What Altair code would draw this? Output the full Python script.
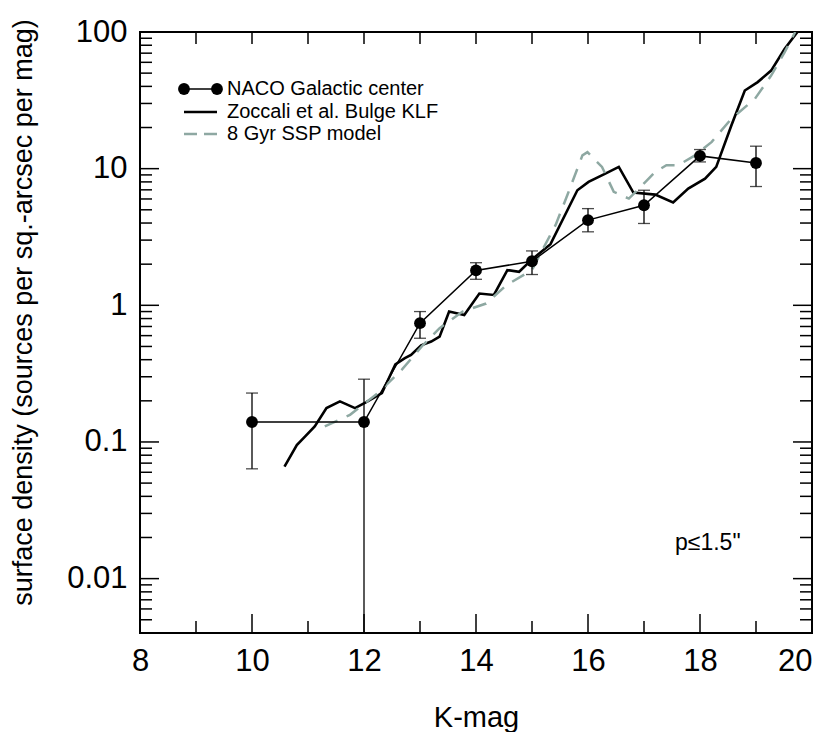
import altair as alt
import pandas as pd

# ---------------- data ----------------
naco_k = [10, 12, 13, 14, 15, 16, 17, 18, 19]
naco_v = [0.14, 0.14, 0.74, 1.80, 2.10, 4.2, 5.4, 12.4, 11.0]
naco_hi = [0.228, 0.288, 0.90, 2.05, 2.5, 5.1, 6.95, 13.8, 14.6]
naco_lo = [0.0636, 0.001, 0.574, 1.55, 1.68, 3.45, 3.97, 11.2, 7.4]

zoc_k = [10.58, 10.80, 10.95, 11.12, 11.33, 11.57, 11.84, 12.04, 12.32, 12.56,
         12.73, 12.84, 13.02, 13.20, 13.35, 13.52, 13.79, 14.06, 14.32, 14.56,
         14.77, 14.99, 15.33, 15.81, 16.01, 16.31, 16.55, 16.81, 17.20, 17.52,
         17.79, 18.09, 18.29, 18.56, 18.80, 19.03, 19.27, 19.51, 19.74]
zoc_v = [0.066, 0.095, 0.110, 0.130, 0.177, 0.198, 0.177, 0.196, 0.228, 0.37,
         0.41, 0.434, 0.51, 0.543, 0.59, 0.90, 0.85, 1.22, 1.19, 1.81,
         1.76, 2.15, 2.8, 6.95, 8.0, 9.2, 10.3, 6.68, 6.46, 5.65,
         7.15, 8.45, 10.3, 20.7, 37.3, 43.0, 52.2, 75.0, 100.0]

ssp_k = [11.30, 11.75, 12.25, 12.68, 13.05, 13.35, 13.76, 14.18, 14.55, 15.00,
         15.17, 15.42, 15.63, 15.90, 15.99, 16.25, 16.46, 16.73, 17.04, 17.20,
         17.40, 17.61, 17.91, 18.21, 18.56, 18.98, 19.27, 19.51, 19.70]
ssp_v = [0.13, 0.158, 0.228, 0.34, 0.51, 0.68, 0.90, 1.03, 1.41, 1.81,
         2.47, 3.86, 6.38, 12.5, 13.2, 10.3, 6.76, 6.04, 8.1, 9.46,
         10.6, 10.6, 12.5, 15.7, 23.2, 32.4, 48.0, 71.0, 100.0]

x_label_vals = [8, 10, 12, 14, 16, 18, 20]
x_major = [10, 12, 14, 16, 18]
x_minor = [9, 11, 13, 15, 17, 19]
y_major = [0.01, 0.1, 1, 10, 100]
y_minor = [0.005, 0.006, 0.007, 0.008, 0.009,
           0.02, 0.03, 0.04, 0.05, 0.06, 0.07, 0.08, 0.09,
           0.2, 0.3, 0.4, 0.5, 0.6, 0.7, 0.8, 0.9,
           2, 3, 4, 5, 6, 7, 8, 9,
           20, 30, 40, 50, 60, 70, 80, 90]

legend_labels = ["NACO Galactic center", "Zoccali et al. Bulge KLF", "8 Gyr SSP model"]
annotation = "p\u22641.5\""
y_title = "surface density (sources per sq.-arcsec per mag)"
x_title = "K-mag"

# ---------------- tables ----------------
naco = pd.DataFrame({"k": naco_k, "v": naco_v, "hi": naco_hi, "lo": naco_lo})
zoc = pd.DataFrame({"k": zoc_k, "v": zoc_v})
ssp = pd.DataFrame({"k": ssp_k, "v": ssp_v})
xmaj = pd.DataFrame({"k": x_major})
xmin = pd.DataFrame({"k": x_minor})
xall = pd.DataFrame({"k": x_major + x_minor})
ymaj = pd.DataFrame({"v": y_major})
ymin = pd.DataFrame({"v": y_minor})
one = pd.DataFrame({"a": [0]})

W, H = 672, 601
FONT = "Liberation Sans"
GREY = "#8ea8a2"

xs = alt.Scale(domain=[8, 20], nice=False, zero=False)
ys = alt.Scale(type="log", domain=[0.004, 100], nice=False)

x_axis = alt.Axis(values=x_label_vals, title=x_title, labelFontSize=31,
                  labelPadding=37, labelBaseline="alphabetic", labelFlush=False,
                  labelOverlap=False, titleFontSize=29, titleY=93,
                  titleBaseline="alphabetic",
                  labelAlign={"condition": {"test": "datum.value == 20", "value": "right"},
                              "value": "center"})
y_axis = alt.Axis(values=y_major, format="~g", title=y_title, labelFontSize=31,
                  labelPadding=13, labelFlush=False, labelOverlap=False,
                  titleFontSize=27, titleX=-109, titleY=280, titleAngle=270,
                  titleBaseline="alphabetic", titleAlign="center", titleLimit=1000)


def X(field="k"):
    return alt.X(f"{field}:Q", scale=xs, axis=x_axis, title=x_title)


def Y(field="v"):
    return alt.Y(f"{field}:Q", scale=ys, axis=y_axis, title=y_title)


# ---------------- ticks (inside, mirrored) ----------------
tick_style = dict(color="black", strokeWidth=1.5)
ticks = [
    alt.Chart(xmaj).mark_rule(**tick_style).encode(x=X(), y=alt.value(H), y2=alt.value(H - 19)),
    alt.Chart(xmin).mark_rule(**tick_style).encode(x=X(), y=alt.value(H), y2=alt.value(H - 12)),
    alt.Chart(xall).mark_rule(**tick_style).encode(x=X(), y=alt.value(0), y2=alt.value(12)),
    alt.Chart(ymaj).mark_rule(**tick_style).encode(y=Y(), x=alt.value(0), x2=alt.value(19)),
    alt.Chart(ymin).mark_rule(**tick_style).encode(y=Y(), x=alt.value(0), x2=alt.value(12)),
    alt.Chart(ymaj).mark_rule(**tick_style).encode(y=Y(), x=alt.value(W), x2=alt.value(W - 19)),
    alt.Chart(ymin).mark_rule(**tick_style).encode(y=Y(), x=alt.value(W), x2=alt.value(W - 12)),
]

# ---------------- series ----------------
ssp_line = alt.Chart(ssp).mark_line(color=GREY, strokeWidth=2.5, strokeDash=[14, 10], clip=True).encode(
    x=X(), y=Y())
zoc_line = alt.Chart(zoc).mark_line(color="black", strokeWidth=2.6, clip=True).encode(
    x=X(), y=Y())
naco_line = alt.Chart(naco).mark_line(color="black", strokeWidth=1.5).encode(x=X(), y=Y())
err = alt.Chart(naco).mark_rule(color="black", strokeWidth=1.3, clip=True).encode(
    x=X(), y=Y("hi"), y2="lo:Q")
cap_hi = alt.Chart(naco).mark_tick(orient="horizontal", size=12, thickness=1.3, color="black").encode(
    x=X(), y=Y("hi"))
cap_lo = alt.Chart(naco).transform_filter("datum.lo >= 0.004").mark_tick(
    orient="horizontal", size=12, thickness=1.3, color="black").encode(
    x=X(), y=Y("lo"))
pts = alt.Chart(naco).mark_circle(size=140, color="black", opacity=1).encode(x=X(), y=Y())

# ---------------- legend & annotation ----------------
LX0, LX1, LT = 44, 77, 87
rows = [57, 80, 102]
legend = [
    alt.Chart(one).mark_rule(color="black", strokeWidth=1.5).encode(
        x=alt.value(LX0), x2=alt.value(LX1), y=alt.value(rows[0])),
    alt.Chart(one).mark_circle(size=140, color="black", opacity=1).encode(
        x=alt.value(LX0), y=alt.value(rows[0])),
    alt.Chart(one).mark_circle(size=140, color="black", opacity=1).encode(
        x=alt.value(LX1), y=alt.value(rows[0])),
    alt.Chart(one).mark_rule(color="black", strokeWidth=2.6).encode(
        x=alt.value(LX0), x2=alt.value(LX1), y=alt.value(rows[1])),
    alt.Chart(one).mark_rule(color=GREY, strokeWidth=2.5, strokeDash=[13, 7]).encode(
        x=alt.value(LX0), x2=alt.value(LX1), y=alt.value(rows[2])),
]
for lab, ry in zip(legend_labels, rows):
    legend.append(alt.Chart(one).mark_text(text=lab, font=FONT, fontSize=20, align="left",
                                           baseline="middle", color="black").encode(
        x=alt.value(LT), y=alt.value(ry)))
note = alt.Chart(one).mark_text(text=annotation, font=FONT, fontSize=23, align="left",
                                baseline="middle", color="black").encode(
    x=alt.value(535), y=alt.value(511))

chart = alt.layer(
    zoc_line, *ticks, ssp_line, naco_line, err, cap_hi, cap_lo, pts, *legend, note
).properties(
    width=W, height=H,
    autosize=alt.AutoSizeParams(type="none"),
    padding={"left": 132, "top": 24, "right": 10, "bottom": 99},
).configure_view(
    stroke="black", strokeWidth=2
).configure_axis(
    grid=False, domain=False, ticks=False, tickSize=0,
    labelFont=FONT, titleFont=FONT, labelColor="black", titleColor="black",
    titleFontWeight="normal"
)

chart.save("out.html", embed_options={"renderer": "svg", "actions": False})
